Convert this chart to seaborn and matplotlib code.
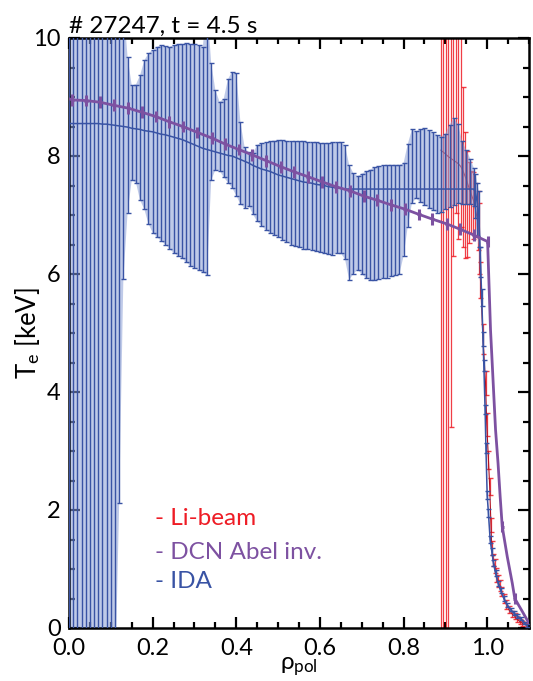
import numpy as np
import matplotlib
matplotlib.use("Agg")
import matplotlib.pyplot as plt
import seaborn as sns
import pandas as pd

# ---------------- data ----------------
# IDA (core grid + edge points): rho, Te, lower and upper error bar ends
ida_rho = [0.00, 0.01, 0.02, 0.03, 0.04, 0.05, 0.06, 0.07, 0.08, 0.09,
           0.10, 0.11, 0.12, 0.13, 0.14, 0.15, 0.16, 0.17, 0.18, 0.19,
           0.20, 0.21, 0.22, 0.23, 0.24, 0.25, 0.26, 0.27, 0.28, 0.29,
           0.30, 0.31, 0.32, 0.33, 0.34, 0.35, 0.36, 0.37, 0.38, 0.39,
           0.40, 0.41, 0.42, 0.43, 0.44, 0.45, 0.46, 0.47, 0.48, 0.49,
           0.50, 0.51, 0.52, 0.53, 0.54, 0.55, 0.56, 0.57, 0.58, 0.59,
           0.60, 0.61, 0.62, 0.63, 0.64, 0.65, 0.66, 0.67, 0.68, 0.69,
           0.70, 0.71, 0.72, 0.73, 0.74, 0.75, 0.76, 0.77, 0.78, 0.79,
           0.80, 0.81, 0.82, 0.83, 0.84, 0.85, 0.86, 0.87, 0.88, 0.89,
           0.90, 0.91, 0.92, 0.93, 0.94, 0.95, 0.96,
           0.968, 0.972, 0.976, 0.980, 0.984, 0.987, 0.990, 0.992, 0.995, 0.997,
           1.000, 1.003, 1.007, 1.011, 1.015, 1.020, 1.026, 1.032, 1.040, 1.048,
           1.056, 1.064, 1.072, 1.080, 1.088, 1.096]
ida_te = [8.55, 8.55, 8.55, 8.55, 8.55, 8.55, 8.55, 8.55, 8.54, 8.54,
          8.53, 8.52, 8.51, 8.50, 8.49, 8.47, 8.46, 8.45, 8.43, 8.42,
          8.41, 8.39, 8.37, 8.36, 8.34, 8.32, 8.30, 8.28, 8.25, 8.22,
          8.19, 8.16, 8.13, 8.11, 8.09, 8.07, 8.05, 8.03, 8.01, 8.00,
          7.97, 7.94, 7.91, 7.88, 7.84, 7.81, 7.78, 7.76, 7.74, 7.71,
          7.68, 7.66, 7.64, 7.62, 7.60, 7.58, 7.56, 7.55, 7.54, 7.52,
          7.51, 7.50, 7.48, 7.47, 7.46, 7.45, 7.44, 7.44, 7.44, 7.44,
          7.44, 7.44, 7.44, 7.44, 7.44, 7.44, 7.44, 7.44, 7.44, 7.44,
          7.44, 7.44, 7.44, 7.44, 7.44, 7.44, 7.44, 7.44, 7.44, 7.44,
          7.44, 7.44, 7.44, 7.44, 7.44, 7.44, 7.44,
          7.44, 7.38, 7.22, 7.00, 6.20, 5.60, 4.90, 4.45, 3.70, 3.05,
          2.25, 1.95, 1.50, 1.30, 1.10, 0.93, 0.76, 0.64, 0.50, 0.39,
          0.31, 0.25, 0.20, 0.16, 0.09, 0.04]
ida_lo = [-1.0, -1.0, -1.0, -1.0, -1.0, -1.0, -1.0, -1.0, -1.0, -1.0,
          -1.0, -1.0, 2.12, 5.92, 7.03, 7.59, 7.55, 7.25, 7.10, 6.85,
          6.70, 6.63, 6.56, 6.50, 6.43, 6.36, 6.31, 6.27, 6.20, 6.14,
          6.10, 6.06, 6.03, 5.98, 7.59, 7.76, 7.75, 7.64, 7.55, 7.46,
          7.33, 7.18, 7.12, 7.15, 7.01, 6.89, 6.82, 6.75, 6.70, 6.66,
          6.63, 6.58, 6.54, 6.50, 6.47, 6.45, 6.43, 6.42, 6.41, 6.39,
          6.37, 6.35, 6.34, 6.33, 6.35, 6.35, 6.25, 5.90, 6.00, 6.07,
          6.00, 5.93, 5.90, 5.89, 5.91, 5.93, 5.94, 5.96, 5.98, 6.00,
          6.30, 6.80, 7.20, 7.28, 7.22, 7.17, 7.12, 7.08, 7.04, 7.05,
          7.10, 7.14, 7.17, 7.20, 7.19, 7.19, 7.19,
          7.15, 6.95, 6.65, 6.45, 5.95, 5.45, 4.78, 4.36, 3.62, 2.97,
          2.18, 1.88, 1.44, 1.24, 1.05, 0.88, 0.72, 0.60, 0.46, 0.36,
          0.28, 0.22, 0.17, 0.13, 0.07, 0.02]
ida_hi = [10.6, 10.6, 10.6, 10.6, 10.6, 10.6, 10.6, 10.6, 10.6, 10.6,
          10.6, 10.6, 10.6, 10.6, 9.68, 9.20, 9.21, 9.37, 9.62, 9.74,
          9.80, 9.85, 9.88, 9.86, 9.85, 9.88, 9.90, 9.90, 9.91, 9.90,
          9.90, 9.88, 9.85, 10.6, 9.57, 9.12, 8.92, 8.97, 9.30, 9.43,
          9.40, 8.57, 8.15, 8.06, 8.05, 8.19, 8.22, 8.23, 8.25, 8.26,
          8.27, 8.27, 8.26, 8.25, 8.25, 8.25, 8.25, 8.24, 8.24, 8.23,
          8.22, 8.22, 8.22, 8.23, 8.23, 8.23, 8.18, 7.85, 7.71, 7.66,
          7.70, 7.74, 7.77, 7.81, 7.83, 7.84, 7.85, 7.85, 7.85, 7.85,
          7.88, 8.20, 8.45, 8.42, 8.45, 8.47, 8.44, 8.40, 8.36, 8.33,
          8.38, 8.53, 8.64, 8.55, 8.25, 8.10, 7.95,
          7.80, 7.70, 7.55, 7.40, 6.45, 5.75, 5.02, 4.54, 3.78, 3.13,
          2.32, 2.02, 1.56, 1.36, 1.15, 0.98, 0.80, 0.68, 0.54, 0.42,
          0.34, 0.28, 0.23, 0.19, 0.11, 0.06]

# Li-beam
li_rho = [0.889, 0.894, 0.901, 0.907, 0.913, 0.919, 0.925, 0.931, 0.937, 0.942,
          0.947, 0.952, 0.957, 0.962, 0.967, 0.972, 0.977, 0.981, 0.984, 0.990,
          0.996, 0.999, 1.003, 1.006, 1.009, 1.011, 1.014, 1.018, 1.022, 1.026,
          1.030, 1.034, 1.040, 1.046, 1.052, 1.060, 1.066, 1.072, 1.078, 1.084, 1.092]
li_te = [8.10, 8.07, 8.03, 7.99, 7.96, 7.93, 7.90, 7.87, 7.82, 7.75,
         7.66, 7.56, 7.45, 7.35, 7.25, 7.10, 6.90, 6.60, 5.90, 4.90,
         4.15, 3.45, 2.85, 2.40, 1.75, 1.35, 1.15, 1.05, 0.90, 0.80,
         0.72, 0.62, 0.50, 0.40, 0.31, 0.24, 0.20, 0.15, 0.11, 0.08, 0.05]
li_lo = [-2.0, -2.0, -2.0, -2.0, 3.40, 6.30, 7.03, 6.60, 6.80, 6.46,
         6.27, 6.29, 6.52, 6.69, 6.60, 6.63, 6.40, 6.00, 5.60, 4.65,
         3.95, 3.25, 2.70, 2.25, 1.63, 1.23, 1.05, 0.93, 0.78, 0.70,
         0.62, 0.54, 0.42, 0.33, 0.25, 0.19, 0.15, 0.10, 0.07, 0.04, 0.02]
li_hi = [12.0, 12.0, 12.0, 12.0, 12.0, 12.0, 12.0, 11.0, 10.5, 9.17,
         8.41, 8.09, 7.90, 7.75, 7.73, 7.55, 7.40, 7.20, 6.20, 5.15,
         4.35, 3.65, 3.00, 2.55, 1.87, 1.47, 1.25, 1.17, 1.02, 0.90,
         0.82, 0.70, 0.58, 0.47, 0.37, 0.29, 0.25, 0.20, 0.15, 0.12, 0.08]

# DCN Abel inversion (line), with flags for measured channel points (markers)
dcn_rho = [0.000, 0.008, 0.041, 0.075, 0.107, 0.142, 0.175, 0.207, 0.240, 0.272,
           0.307, 0.343, 0.374, 0.406, 0.438, 0.472, 0.506, 0.539, 0.571, 0.606,
           0.638, 0.672, 0.705, 0.737, 0.771, 0.803, 0.837, 0.869, 0.903, 0.935,
           0.968, 1.001, 1.008, 1.012, 1.016, 1.020, 1.026, 1.031, 1.036, 1.048,
           1.060, 1.066, 1.084, 1.100]
dcn_te = [8.97, 8.95, 8.94, 8.91, 8.86, 8.81, 8.74, 8.67, 8.58, 8.50,
          8.40, 8.30, 8.20, 8.11, 8.02, 7.92, 7.82, 7.73, 7.65, 7.56,
          7.48, 7.41, 7.32, 7.25, 7.17, 7.10, 7.01, 6.93, 6.85, 6.76,
          6.66, 6.55, 5.05, 4.49, 3.92, 3.36, 2.79, 2.23, 1.72, 1.21,
          0.76, 0.50, 0.28, 0.08]
dcn_mark = [0, 1, 1, 1, 1, 1, 1, 1, 1, 1,
            1, 1, 1, 1, 1, 1, 1, 1, 1, 1,
            1, 1, 1, 1, 1, 1, 1, 1, 1, 1,
            1, 1, 0, 0, 0, 0, 0, 0, 1, 0,
            0, 1, 0, 0]

legend_labels = ["- Li-beam", "- DCN Abel inv.", "- IDA"]
title_text = "# 27247, t = 4.5 s"

# ---------------- style ----------------
sns.set_style("ticks")
FONT = 'Lato'
plt.rcParams['font.family'] = [FONT, 'DejaVu Sans']
plt.rcParams['mathtext.fontset'] = 'custom'
plt.rcParams['mathtext.rm'] = FONT
plt.rcParams['mathtext.it'] = FONT + ':italic'
plt.rcParams['text.color'] = 'black'
plt.rcParams['axes.labelcolor'] = 'black'
plt.rcParams['xtick.color'] = 'black'
plt.rcParams['ytick.color'] = 'black'

RED = '#ee1c25'
PURPLE = '#7d51a1'
BLUE = '#3953a4'

fig = plt.figure(figsize=(5.33, 6.81), dpi=100)
ax = fig.add_axes([69 / 533, 53 / 681, 460 / 533, 590 / 681])

ida = pd.DataFrame({'rho': ida_rho, 'te': ida_te, 'lo': ida_lo, 'hi': ida_hi})
li = pd.DataFrame({'rho': li_rho, 'te': li_te, 'lo': li_lo, 'hi': li_hi})
dcn = pd.DataFrame({'rho': dcn_rho, 'te': dcn_te, 'mark': dcn_mark})

# Li-beam (underneath)
ax.errorbar(li['rho'], li['te'], yerr=[li['te'] - li['lo'], li['hi'] - li['te']],
            fmt='none', ecolor=RED, elinewidth=0.9, capsize=1.8, capthick=1.0,
            alpha=0.85, zorder=2)
sns.lineplot(data=li, x='rho', y='te', ax=ax, color='#b01020', lw=0.8,
             sort=False, zorder=2.1, legend=False)

# IDA
ax.fill_between(ida['rho'], ida['lo'], ida['hi'], color='#8c9fd6', alpha=0.55,
                lw=0, zorder=2.5)
ax.errorbar(ida['rho'], ida['te'], yerr=[ida['te'] - ida['lo'], ida['hi'] - ida['te']],
            fmt='none', ecolor=BLUE, elinewidth=1.0, capsize=1.8, capthick=1.0,
            zorder=3)
sns.lineplot(data=ida, x='rho', y='te', ax=ax, color=BLUE, lw=1.1,
             sort=False, zorder=3.2, legend=False)

# DCN
sns.lineplot(data=dcn, x='rho', y='te', ax=ax, color=PURPLE, lw=2.0,
             sort=False, zorder=4, legend=False)
dm = dcn[dcn['mark'] == 1]
ax.errorbar(dm['rho'], dm['te'], yerr=0.1, xerr=0.004, fmt='none', ecolor=PURPLE,
            elinewidth=2.2, capsize=0, zorder=4.1)

# axes
ax.set_xlim(0, 1.1)
ax.set_ylim(0, 10)
ax.set_xticks([0.0, 0.2, 0.4, 0.6, 0.8, 1.0])
ax.set_xticklabels(['0.0', '0.2', '0.4', '0.6', '0.8', '1.0'])
ax.set_xticks(np.arange(0, 1.1001, 0.05), minor=True)
ax.set_yticks([0, 2, 4, 6, 8, 10])
ax.set_yticks(np.arange(0, 10.01, 0.5), minor=True)
ax.tick_params(which='both', direction='in', top=True, right=True, width=1.6,
               labelsize=17, colors='black', labelcolor='black')
ax.tick_params(which='major', length=8)
ax.tick_params(axis='x', which='major', pad=7)
ax.tick_params(axis='y', which='major', pad=6)
ax.tick_params(which='minor', length=4)
for s in ax.spines.values():
    s.set_linewidth(1.8)
    s.set_color('black')

ax.set_xlabel(r'$\mathrm{ρ}_{\mathrm{pol}}$', fontsize=17.5, labelpad=-2.5)
ax.set_ylabel(r'T$_{\mathrm{e}}$ [keV]', fontsize=18.5, labelpad=-6)
ax.set_title(title_text, loc='left', fontsize=17.5, pad=4)

for lab, col, yy in zip(legend_labels, [RED, PURPLE, BLUE], [1.86, 1.28, 0.78]):
    ax.text(0.205, yy, lab, color=col, fontsize=17.5, va='center', ha='left', zorder=6)

fig.savefig('out.png', dpi=100)
